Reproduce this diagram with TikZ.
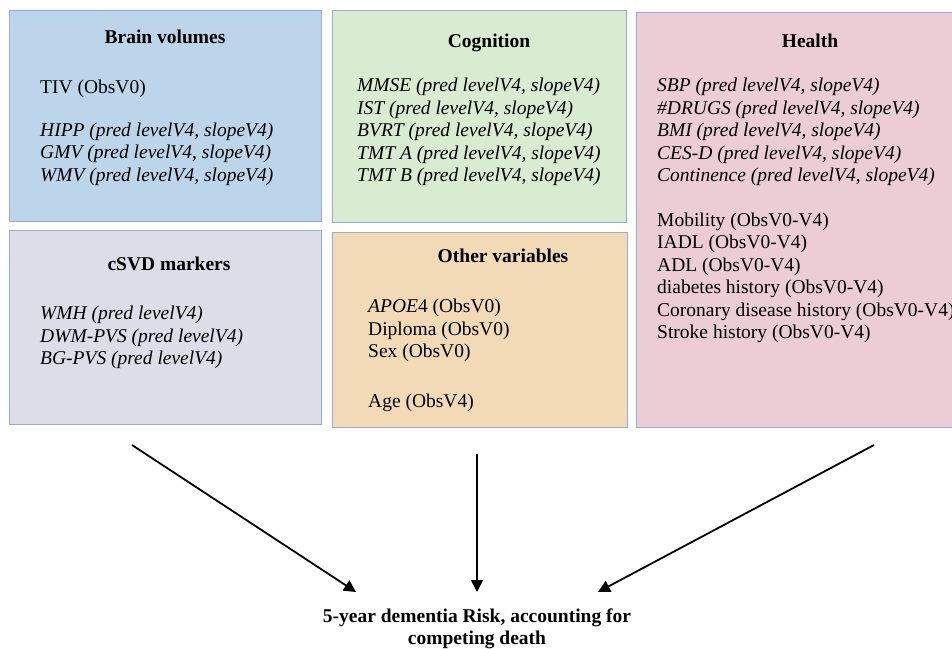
\documentclass[tikz,border=0pt]{standalone}
\usepackage{fontspec}
\setmainfont{Liberation Serif}
\usepackage{tikz}
\usetikzlibrary{arrows.meta}

\definecolor{brainblue}{RGB}{189,213,234}
\definecolor{cognigreen}{RGB}{217,236,209}
\definecolor{healthpink}{RGB}{236,205,213}
\definecolor{svdgray}{RGB}{221,221,233}
\definecolor{othertan}{RGB}{242,218,183}
\definecolor{boxline}{RGB}{150,172,212}

\tikzset{
  group/.style={rectangle, draw=boxline, line width=0.8pt, inner sep=0pt, anchor=north west},
  grouptitle/.style={font=\fontsize{19.5}{22.5}\selectfont\bfseries, anchor=base, inner sep=0pt},
  varlist/.style={align=left, anchor=north west, inner sep=0pt},
  riskarrow/.style={-{Triangle[length=12pt,width=12pt]}, line width=1.8pt}
}

\begin{document}
\begin{tikzpicture}[x=1pt, y=-1pt, font=\fontsize{19.5}{22.5}\selectfont]
\clip (0,0) rectangle (952,648);
\node[group, fill=brainblue, minimum width=312pt, minimum height=211pt] (brain) at (9,10) {};
\node[group, fill=cognigreen, minimum width=294pt, minimum height=212pt] (cogn) at (332,10) {};
\node[group, fill=healthpink, minimum width=360pt, minimum height=415pt] (health) at (636,12) {};
\node[group, fill=svdgray, minimum width=312pt, minimum height=194pt] (svd) at (9,230) {};
\node[group, fill=othertan, minimum width=295pt, minimum height=195pt] (other) at (332,232) {};

\node[grouptitle] (brainT) at (165,43) {Brain volumes};
\node[grouptitle] (cognT) at (489,47) {Cognition};
\node[grouptitle] (healthT) at (810,47) {Health};
\node[grouptitle] (svdT) at (169,270) {cSVD markers};
\node[grouptitle] (otherT) at (503,262) {Other variables};

\node[varlist] (brainL) at (40,78) {\strut TIV (ObsV0)\\[20pt]
  \textit{HIPP (pred levelV4, slopeV4)}\\
  \textit{GMV (pred levelV4, slopeV4)}\\
  \textit{WMV (pred levelV4, slopeV4)}};
\node[varlist] (cognL) at (357,76) {\strut\textit{MMSE (pred levelV4, slopeV4)}\\
  \textit{IST (pred levelV4, slopeV4)}\\
  \textit{BVRT (pred levelV4, slopeV4)}\\
  \textit{TMT A (pred levelV4, slopeV4)}\\
  \textit{TMT B (pred levelV4, slopeV4)}};
\node[varlist] (healthL) at (657,76) {\strut\textit{SBP (pred levelV4, slopeV4)}\\
  \textit{\#DRUGS (pred levelV4, slopeV4)}\\
  \textit{BMI (pred levelV4, slopeV4)}\\
  \textit{CES-D (pred levelV4, slopeV4)}\\
  \textit{Continence (pred levelV4, slopeV4)}\\[22pt]
  Mobility (ObsV0-V4)\\
  IADL (ObsV0-V4)\\
  ADL (ObsV0-V4)\\
  diabetes history (ObsV0-V4)\\
  Coronary disease history (ObsV0-V4)\\
  Stroke history (ObsV0-V4)};
\node[varlist] (svdL) at (40,304) {\strut\textit{WMH (pred levelV4)}\\
  \textit{DWM-PVS (pred levelV4)}\\
  \textit{BG-PVS (pred levelV4)}};
\node[varlist] (otherL) at (368,297) {\strut\textit{APOE}4 (ObsV0)\\
  Diploma (ObsV0)\\
  Sex (ObsV0)\\[27pt]
  Age (ObsV4)};

\node[align=center, anchor=north, inner xsep=0pt, inner ysep=15pt, font=\fontsize{19.5}{22}\selectfont\bfseries] (risk) at (477,592)
  {\strut 5-year dementia Risk, accounting for\\ competing death};

\coordinate (svdout) at (132,445);
\coordinate (otherout) at (477,454);
\coordinate (healthout) at (874,445);
\draw[riskarrow] (svdout) -- ([xshift=-121pt]risk.north);
\draw[riskarrow] (otherout) -- (risk.north);
\draw[riskarrow] (healthout) -- ([xshift=121pt]risk.north);
\end{tikzpicture}
\end{document}
